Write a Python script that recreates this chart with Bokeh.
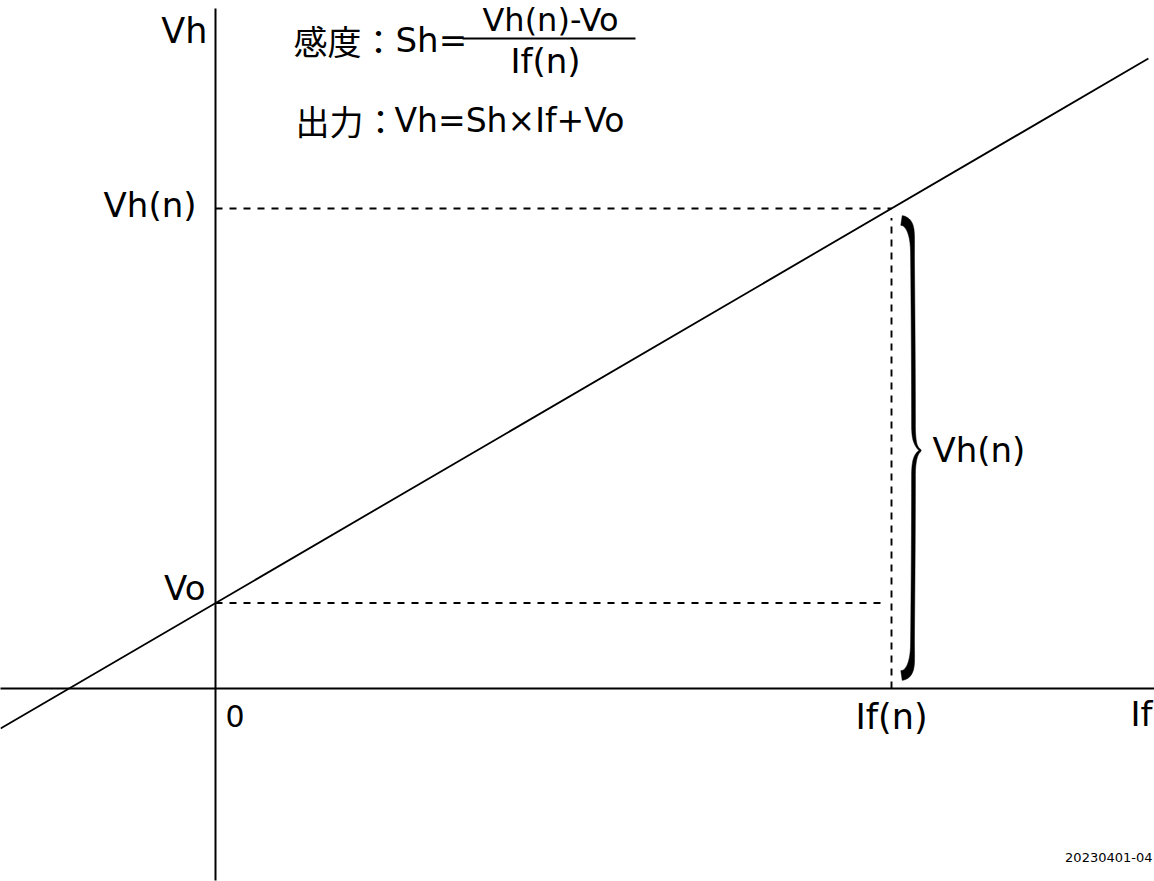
import numpy as np
from bokeh.plotting import figure
from bokeh.models import Range1d, Label
from bokeh.embed import file_html
from bokeh.resources import INLINE

# ---- data (schematic values) ----
If_n = 1.0          # If(n)
Vo = 0.178          # offset voltage Vo
Vh_n = 1.0          # Vh(n)
Sh = (Vh_n - Vo) / If_n
line_x = [-0.318, 1.380]
line_y = [Sh * x + Vo for x in line_x]
axis_x = [-0.33, 1.72]
axis_y = [-0.40, 1.42]

# ---- pixel <-> data helpers (frame spans page px 0..1154, 0..881) ----
SX, SY = 676.0, 480.0
OX, OY = 215.0, 688.0
def X(px):
    return (px - OX) / SX
def Y(py):
    return (OY - py) / SY
def PX(x):
    return OX + SX * x
def PY(y):
    return OY - SY * y

W, H = 1154, 881
p = figure(width=W, height=H,
           x_range=Range1d(X(0), X(W)), y_range=Range1d(Y(H), Y(0)),
           x_axis_type=None, y_axis_type=None,
           output_backend="svg", toolbar_location=None,
           min_border=0, min_border_left=0, min_border_right=0,
           min_border_top=0, min_border_bottom=0,
           outline_line_color=None, background_fill_color="white",
           border_fill_color="white")
p.grid.visible = False

# axes
p.line(axis_x, [0, 0], line_color="black", line_width=2)
p.line([0, 0], [-0.40, Y(8)], line_color="black", line_width=2)

# characteristic line
p.line(line_x, line_y, line_color="black", line_width=1.8)

# dashed guides
dash = "7 7"
p.line([0, If_n], [Vh_n, Vh_n], line_color="black", line_width=1.9, line_dash=dash)
p.line([0, If_n - 0.016], [Vo, Vo], line_color="black", line_width=1.9, line_dash=dash)
p.line([If_n, If_n], [0, Vh_n - 0.02], line_color="black", line_width=1.9, line_dash="7 6")

# ---- brace spanning 0 .. Vh(n) right of If(n) ----
def bez(p0, p1, p2, p3, n=40):
    t = np.linspace(0, 1, n)[:, None]
    p0, p1, p2, p3 = map(np.array, (p0, p1, p2, p3))
    return ((1 - t) ** 3) * p0 + 3 * ((1 - t) ** 2) * t * p1 + 3 * (1 - t) * t ** 2 * p2 + t ** 3 * p3

X0 = PX(If_n)
YT = PY(Vh_n)
YB = PY(0)
YM = (YT + YB) / 2 + 2
segs = [
    bez((X0 + 10, YT + 12), (X0 + 19, YT + 13), (X0 + 21, YT + 25), (X0 + 21, YT + 45)),
    bez((X0 + 21, YT + 45), (X0 + 21.5, YT + 100), (X0 + 22, YM - 80), (X0 + 22, YM - 25)),
    bez((X0 + 22, YM - 25), (X0 + 22, YM - 8), (X0 + 25, YM - 3), (X0 + 29, YM)),
    bez((X0 + 29, YM), (X0 + 25, YM + 3), (X0 + 22, YM + 8), (X0 + 22, YM + 25)),
    bez((X0 + 22, YM + 25), (X0 + 22, YM + 80), (X0 + 21.5, YB - 100), (X0 + 21, YB - 45)),
    bez((X0 + 21, YB - 45), (X0 + 21, YB - 25), (X0 + 19, YB - 14), (X0 + 10, YB - 13)),
]
c = np.vstack(segs)
d = np.sqrt((np.diff(c, axis=0) ** 2).sum(axis=1))
s = np.concatenate([[0], np.cumsum(d)])
u = s / s[-1]
tang = np.gradient(c, axis=0)
tang /= np.linalg.norm(tang, axis=1)[:, None] + 1e-9
nrm = np.stack([-tang[:, 1], tang[:, 0]], axis=1)
hw = (1.9 + 3.0 * np.exp(-(u / 0.04) ** 2) + 3.0 * np.exp(-((1 - u) / 0.04) ** 2)
      - 1.0 * np.exp(-((u - 0.5) / 0.02) ** 2))
left = c + nrm * hw[:, None]
right = c - nrm * hw[:, None]
poly = np.vstack([left, right[::-1]])
p.patch([X(v) for v in poly[:, 0]], [Y(v) for v in poly[:, 1]],
        fill_color="black", line_color="black", line_width=0.5)

# ---- texts ----
LAT = "DejaVu Sans"
CJK = "Noto Sans CJK JP"
def lab(text, px, py, align="left", size=34, font=LAT):
    # py is the wanted baseline; correct for the renderer's baseline offset
    p.add_layout(Label(x=X(px), y=Y(py - 0.36 * size), text=text, text_align=align,
                       text_baseline="alphabetic", text_font=font,
                       text_font_size=f"{size}px", text_color="black"))

lab("Vh", 207, 43, "right", 35)
lab("Vh(n)", 196, 217, "right", 34)
lab("Vo", 205, 600, "right", 34)
lab("0", 225, 726, "left", 30)
lab("If(n)", 891, 729, "center", 35)
lab("If", 1152, 726, "right", 34)
lab("Vh(n)", 932, 462, "left", 34)
lab("20230401-04", 1152, 862, "right", 13)

# formula 1: sensitivity
lab("感度：", 293, 52, "left", 34, CJK)
lab("Sh=", 395, 52, "left", 34)
lab("Vh(n)-Vo", 550, 31, "center", 32)
lab("If(n)", 545, 73, "center", 34)
p.line([X(462), X(635)], [Y(38), Y(38)], line_color="black", line_width=2)

# formula 2: output
lab("出力：", 295, 132, "left", 34, CJK)
lab("Vh=Sh×If+Vo", 394, 132, "left", 33)

open("out.html", "w").write(file_html(p, INLINE))
